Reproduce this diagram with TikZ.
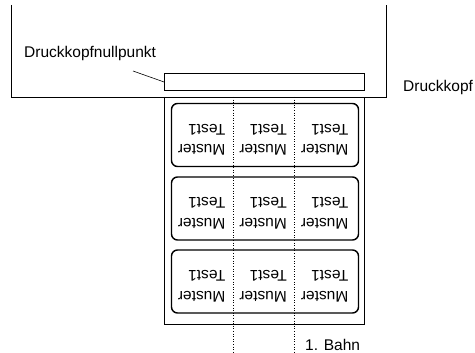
\documentclass[tikz,border=0pt]{standalone}
\usepackage{fontspec}
\setmainfont{Liberation Sans}
\usetikzlibrary{positioning}
\begin{document}
\begin{tikzpicture}[x=1pt, y=-1pt,
  every node/.style={font=\fontsize{15.5}{20.5}\selectfont, inner sep=0pt},
  etikett/.style={draw, line width=1.4pt, rounded corners=6pt, minimum width=187pt, minimum height=63pt},
  aufdruck/.style={rotate=180, anchor=west},
  trenn/.style={dotted, line width=0.6pt}]
  \useasboundingbox (0,0) rectangle (475,353);
  % Drucker und Druckkopf
  \draw[line width=0.8pt] (11,5) -- (11,97) -- (386,97) -- (386,5);
  \node[draw, line width=0.8pt, minimum width=200pt, minimum height=17pt] (kopf) at (264.5,82) {};
  \node[anchor=base west] (kopftext) at (403,91.5) {Druckkopf};
  \node[anchor=base west] (nulltext) at (24,57.5) {Druckkopfnullpunkt};
  \coordinate (null) at (133,71);
  \draw[line width=0.6pt] (null) -- (kopf.west);
  % Etikettenband
  \draw[line width=0.8pt] (164,97) -- (164,324.5) -- (364.5,324.5) -- (364.5,97);
  \foreach \y/\n in {135/1, 208.5/2, 281.5/3} {
    \node[etikett] (etikett\n) at (265,\y) {};
    \foreach \x in {225.5, 287, 348.5} {
      \node[aufdruck] at (\x,\y-5.5) {Test1};
      \node[aufdruck] at (\x,\y+15) {Muster};
    }
  }
  % Bahnen
  \foreach \x/\n in {233.5/a, 294.5/b} {
    \coordinate (\n oben) at (\x,97);
    \coordinate (\n unten) at (\x,352);
    \draw[trenn] (\n oben) -- (\n unten);
  }
  \node[anchor=base west] (bahn) at (305,350.5) {1. Bahn};
\end{tikzpicture}
\end{document}
